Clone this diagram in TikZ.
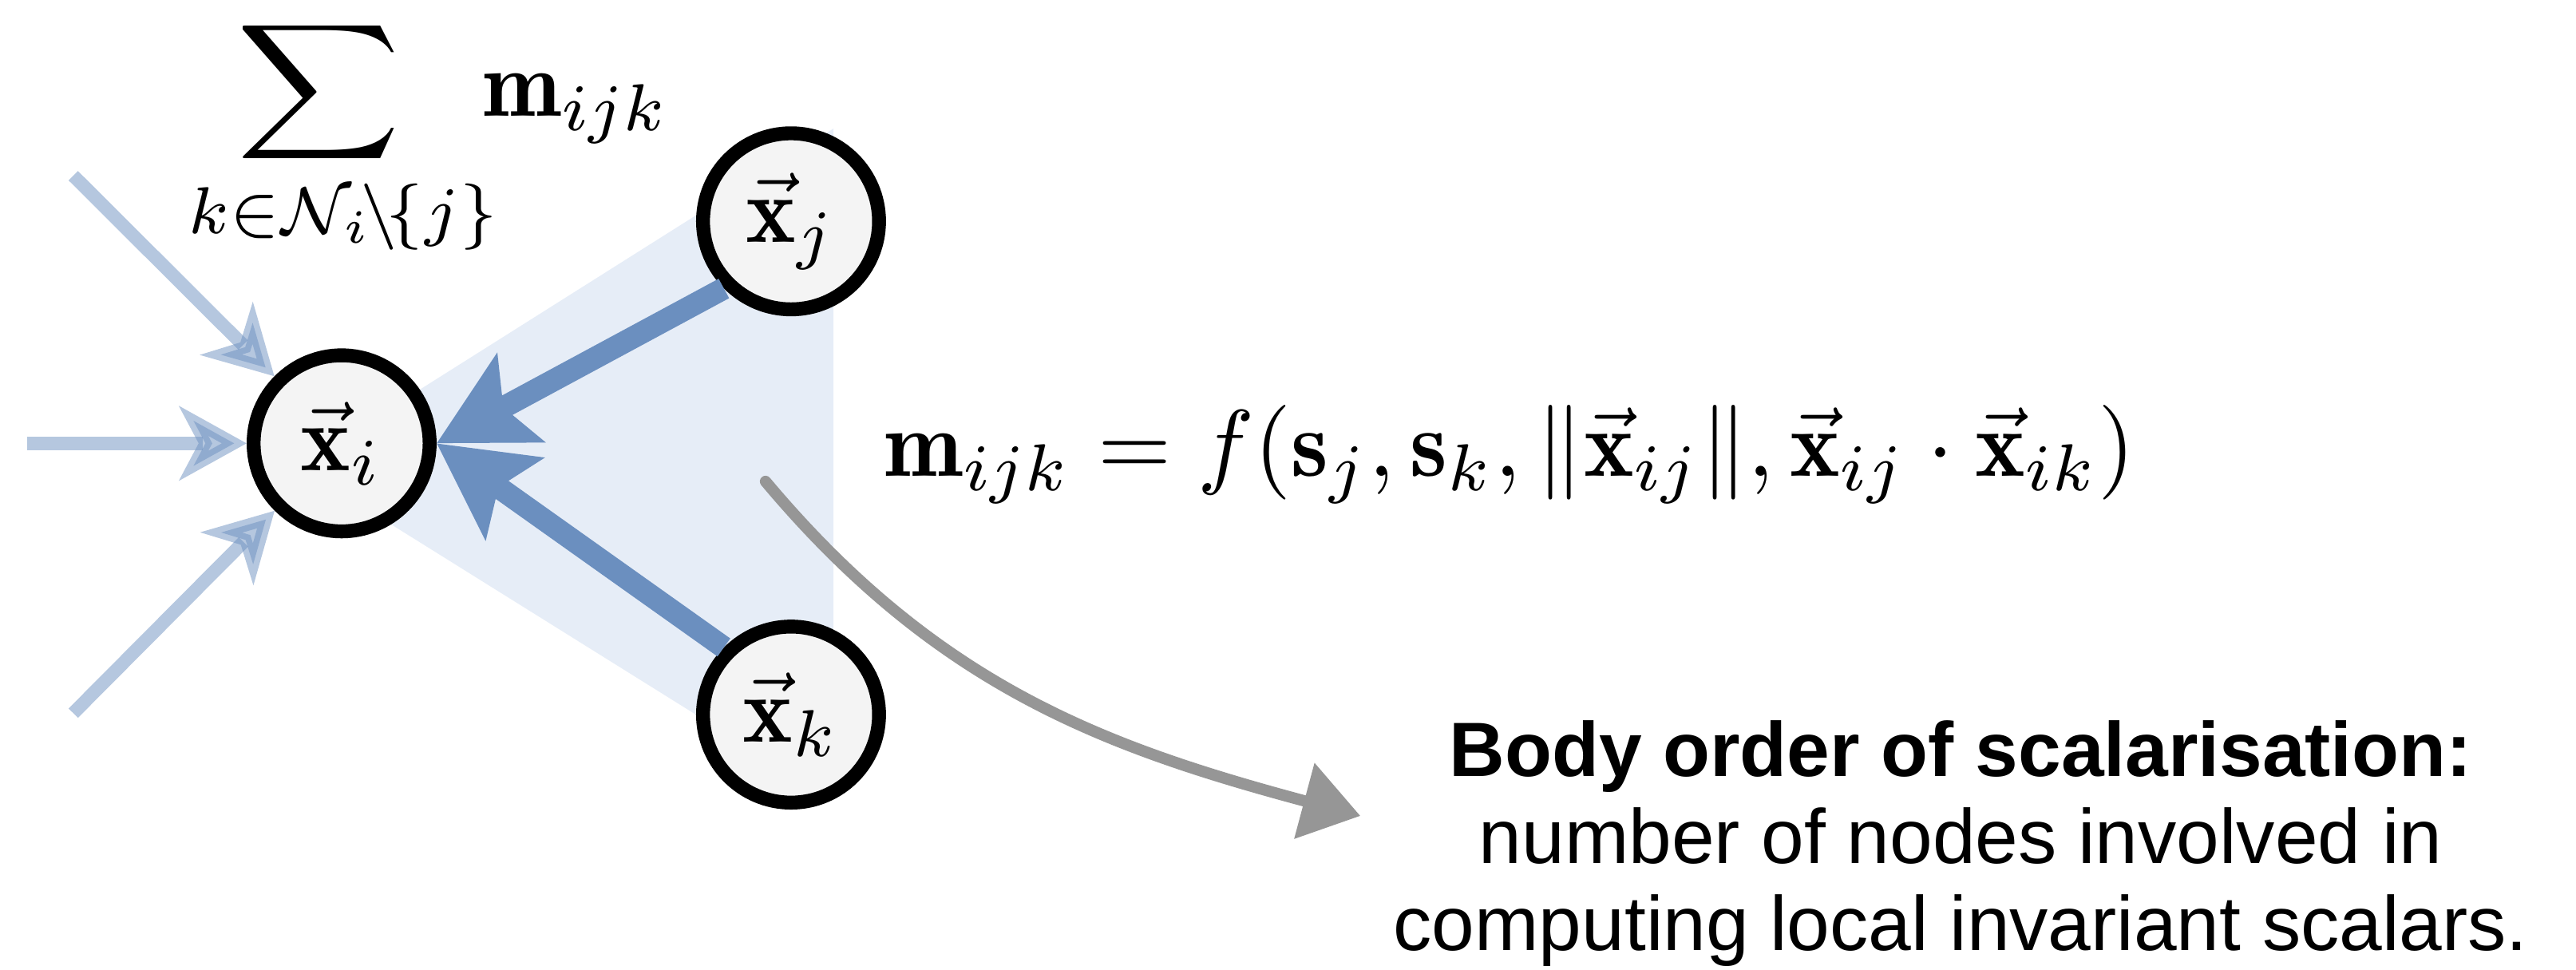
\documentclass[tikz,border=0pt]{standalone}
\definecolor{edgeblue}{RGB}{107,143,191}
\definecolor{tripale}{RGB}{230,237,247}
\definecolor{nodefill}{RGB}{244,244,244}
\definecolor{pencil}{RGB}{150,150,150}
\usepackage{xcolor}
\usepackage{graphicx}
\usepackage{tikz}
\usetikzlibrary{arrows.meta,positioning,calc}
\usepackage{amsmath,amssymb}
\usepackage{fontspec}
\newfontfamily\helv{Liberation Sans}
\newcommand{\vlab}[1]{\scalebox{0.75}{$\vec{\mathbf{x}}_{#1}$}}
\newcommand{\widesum}{\mathop{\scalebox{1.2}[1]{$\displaystyle\sum$}}\limits}

\begin{document}
\begin{tikzpicture}[
      vx/.style={circle,draw=black,fill=nodefill,line width=1.1pt,
                 minimum size=0.49cm,inner sep=0pt},
      eq/.style={anchor=base west,inner sep=0pt,scale=0.75,transform shape},
      msg/.style={-{Stealth[length=7.5pt,width=7.8pt,inset=1.5pt]},
                  color=edgeblue,line width=1.75pt},
      nb/.style={-{Stealth[length=5.3pt,width=5.8pt,inset=1.5pt]},
                 color=edgeblue,opacity=0.5,line width=1.05pt},
      hint/.style={-{Triangle[length=4.6pt,width=6pt]},color=pencil,
                   line width=0.9pt,line cap=round}]
      \useasboundingbox (0,0) rectangle (7.171,2.698);
      \fill[tripale] (0.83,1.40) -- (2.32,2.34) -- (2.32,0.47) -- cycle;
      \node[vx] (xi) at (0.951,1.464) {\vlab{i}};
      \node[vx] (xj) at (2.202,2.082) {\vlab{j}};
      \node[vx] (xk) at (2.202,0.709) {\vlab{k}};
      % incoming from other neighbours
      \coordinate (n1) at (0.204,2.209);
      \coordinate (n2) at (0.076,1.464);
      \coordinate (n3) at (0.204,0.713);
      \foreach \n in {n1,n2,n3} \draw[nb] (\n) -- (xi);
      \draw[msg] (xj.south west) -- (xi.east);
      \draw[msg] (xk.north west) -- (xi.east);
      \node[eq] (sum) at (0.517,2.375)
        {$\widesum_{k\in\mathcal{N}_i\!\setminus\!\{j\}}\!\!\mathbf{m}_{ijk}$};
      \node[eq] (msgeq) at (2.456,1.372)
        {$\mathbf{m}_{ijk}=f(\mathbf{s}_j,\mathbf{s}_k,\|\vec{\mathbf{x}}_{ij}\|,\vec{\mathbf{x}}_{ij}\cdot\vec{\mathbf{x}}_{ik})$};
      \node[anchor=south,inner sep=0pt,align=center,
            font=\helv\fontsize{6.1}{6.9}\selectfont] (note) at (5.458,0)
        {\textbf{Body order of scalarisation:}\\number of nodes involved in\\computing local invariant scalars.};
      \coordinate (hs) at (2.131,1.358);
      \coordinate (he) at (3.787,0.427);
      \draw[hint] (hs) to[out=-50,in=165] (he);
    \end{tikzpicture}
\end{document}
